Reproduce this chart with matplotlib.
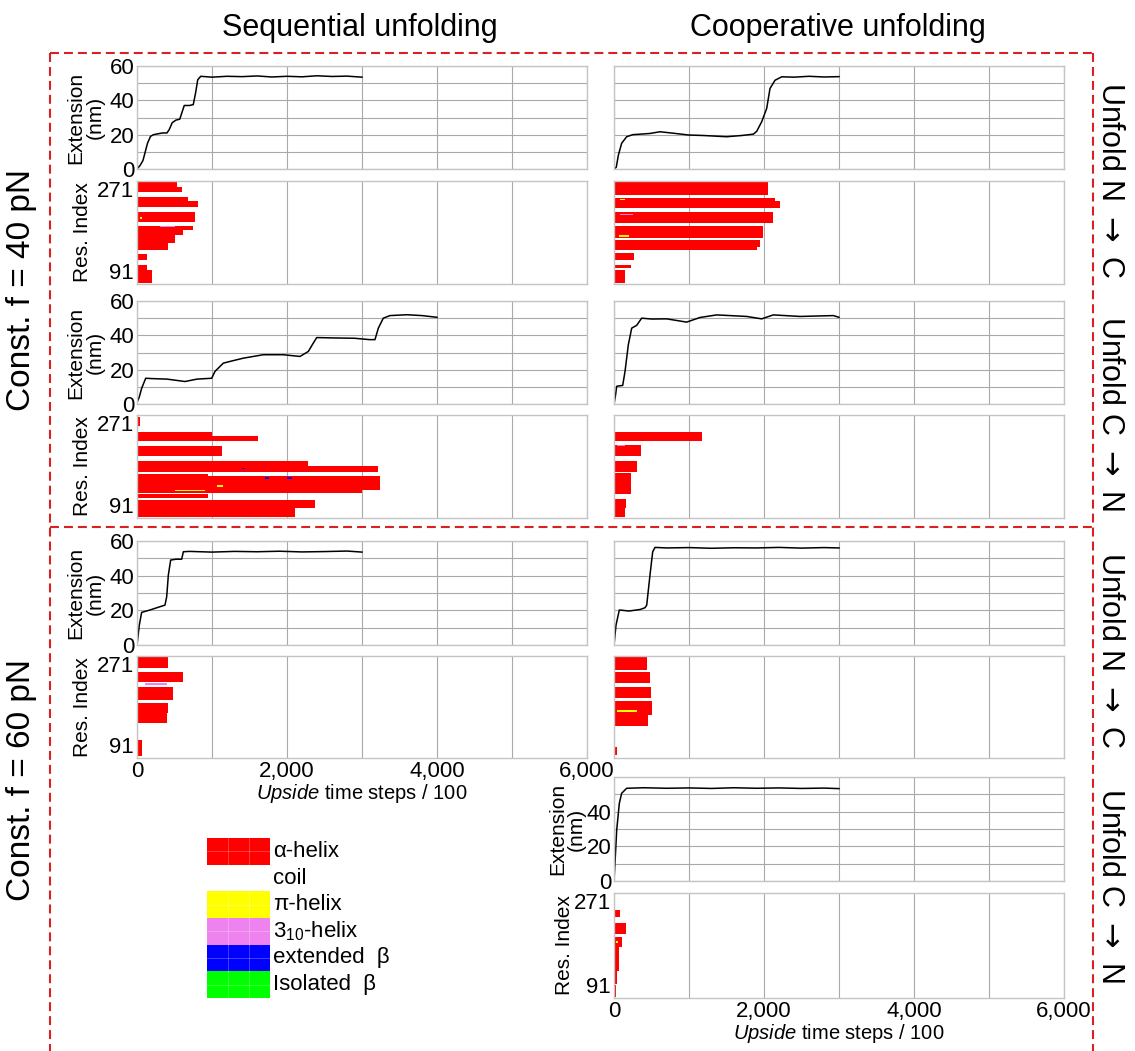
import matplotlib
matplotlib.use('Agg')
import matplotlib.pyplot as plt
from matplotlib.patches import Rectangle
from matplotlib.lines import Line2D

plt.rcParams['font.family'] = ['Liberation Sans', 'DejaVu Sans']
plt.rcParams['mathtext.fontset'] = 'custom'
plt.rcParams['mathtext.rm'] = 'Liberation Sans'
plt.rcParams['mathtext.it'] = 'Liberation Sans:italic'

# ---- extension traces (time steps / 100, nm) ----
seq40_nc_t = [0, 40, 80, 110, 140, 180, 220, 280, 340, 400, 430, 470, 520, 570, 600, 630, 700, 750, 780, 810, 850,
              1000, 1200, 1400, 1600, 1800, 2000, 2200, 2400, 2600, 2800, 3000]
seq40_nc_x = [0, 2, 5, 10, 15, 19, 20, 20.5, 21, 21, 23, 27, 28.5, 29, 33, 37, 37, 37.5, 44, 52, 54,
              53.5, 54, 53.8, 54.2, 53.6, 54, 53.7, 54.3, 53.9, 54.1, 53.5]

coop40_nc_t = [0, 30, 58, 102, 169, 250, 480, 613, 800, 996, 1200, 1502, 1700, 1858, 1902, 1969, 2036, 2080,
               2147, 2236, 2400, 2600, 2800, 3000]
coop40_nc_x = [0, 1, 8, 15, 18.8, 20, 20.7, 21.7, 20.8, 19.8, 19.5, 18.8, 19.5, 20.3, 21.9, 27.5, 35.3, 46.9,
               51.7, 53.7, 53.5, 54, 53.6, 53.8]

seq40_cn_t = [0, 30, 62, 116, 200, 400, 640, 800, 996, 1040, 1151, 1240, 1418, 1684, 1951, 2173, 2284, 2351,
              2396, 2600, 2900, 3100, 3173, 3218, 3284, 3373, 3600, 3800, 4000]
seq40_cn_x = [1, 4, 9.1, 15, 14.8, 14.5, 13.1, 14.5, 15, 19, 23.8, 24.8, 26.7, 28.7, 28.7, 27.7, 30.6, 35.5,
              38.7, 38.5, 38.3, 37.5, 37.5, 44.2, 50, 51.5, 52, 51.5, 50.5]

coop40_cn_t = [0, 20, 36, 58, 116, 147, 191, 236, 302, 369, 500, 702, 969, 1147, 1369, 1769, 1969, 2124,
               2480, 2924, 3000]
coop40_cn_x = [0, 5, 10.3, 10.5, 10.8, 19, 34.5, 44.2, 45.8, 50, 49.5, 49.6, 47.7, 50.4, 51.9, 51, 49.6, 51.9,
               51, 51.5, 50.5]

seq60_nc_t = [0, 31, 62, 173, 307, 373, 396, 418, 449, 520, 596, 618, 700, 1000, 1300, 1600, 1900, 2200,
              2500, 2800, 3000]
seq60_nc_x = [0, 11.5, 18.8, 20.2, 22.1, 23, 27.9, 40.4, 49, 49.5, 49.5, 53.8, 54, 53.6, 54, 53.8, 54.1, 53.7,
              53.9, 54.2, 53.6]

coop60_nc_t = [0, 27, 71, 200, 350, 413, 436, 480, 516, 547, 700, 1000, 1300, 1600, 1900, 2200, 2500, 2800, 3000]
coop60_nc_x = [0, 11.5, 20.2, 19.6, 20.5, 21.5, 23, 40.4, 53.8, 56.3, 56, 56.2, 55.8, 56.1, 56, 56.3, 55.9,
               56.2, 56]

coop60_cn_t = [0, 13, 36, 71, 102, 169, 400, 700, 1000, 1300, 1600, 1900, 2200, 2500, 2800, 3000]
coop60_cn_x = [0, 10.2, 29.4, 44.8, 50.6, 53.5, 53.8, 53.5, 53.7, 53.4, 53.8, 53.5, 53.7, 53.4, 53.6, 53.3]

# ---- helix lifetimes: (first residue, last residue, time helix is lost) ----
seq40_nc_helix = [(261, 271, 529), (252, 261, 596), (236, 243, 684), (226, 236, 809), (200, 217, 773),
                  (185, 193, 751), (177, 185, 618), (163, 177, 507), (151, 163, 418), (133, 143, 129),
                  (116, 125, 129), (93, 116, 196)]
coop40_nc_helix = [(246, 271, 2058), (236, 242, 2150), (223, 236, 2213), (197, 217, 2116), (171, 193, 1991),
                   (155, 168, 1947), (150, 155, 1900), (133, 145, 267), (119, 125, 222), (93, 116, 147)]
seq40_cn_helix = [(251, 268, 40), (235, 241, 996), (225, 235, 1618), (200, 216, 1129), (182, 191, 2284),
                  (172, 182, 3218), (164, 168, 951), (140, 164, 3240), (134, 140, 3000), (126, 133, 951),
                  (108, 123, 2373), (92, 108, 2107)]
coop40_cn_helix = [(251, 268, 18), (225, 241, 1169), (200, 219, 356), (172, 191, 302), (133, 169, 222),
                   (109, 125, 160), (93, 109, 147)]
seq60_nc_helix = [(250, 270, 418), (226, 242, 618), (194, 217, 484), (170, 188, 418), (153, 170, 396),
                  (135, 143, 13), (94, 123, 62)]
coop60_nc_helix = [(246, 270, 436), (223, 243, 480), (197, 217, 489), (167, 191, 502), (147, 167, 458),
                   (135, 144, 18), (97, 111, 44)]
coop60_cn_helix = [(261, 269, 13), (230, 242, 80), (201, 219, 160), (178, 196, 102), (138, 178, 71),
                   (115, 138, 36), (93, 113, 27)]

# other secondary structure: (first residue, last residue, start, end, type)
seq40_nc_other = [(205, 208, 40, 70, 'pi'), (190, 192, 300, 500, '310')]
coop40_nc_other = [(237, 240, 80, 140, 'pi'), (174, 177, 60, 200, 'pi'), (212, 214, 80, 250, '310')]
seq40_cn_other = [(146, 149, 1070, 1150, 'pi'), (160, 163, 1700, 1760, 'ext'), (160, 163, 2000, 2060, 'ext'),
                  (176, 179, 1400, 1440, 'ext'), (138, 140, 500, 900, 'pi')]
coop40_cn_other = [(216, 219, 40, 150, '310')]
seq60_nc_other = [(220, 223, 100, 400, '310')]
coop60_nc_other = [(172, 176, 40, 300, 'pi')]
coop60_cn_other = [(186, 189, 20, 50, 'pi')]

ss_labels = ['α-helix', 'coil', 'π-helix', '3$_{10}$-helix', 'extended  β', 'Isolated  β']
ss_colors = ['#ff0000', '#ffffff', '#ffff00', '#ee82ee', '#0000ff', '#00ff00']
other_colors = {'pi': '#ffff00', '310': '#ee82ee', 'ext': '#0000ff', 'iso': '#00ff00'}

W, H = 1135, 1051
GRID = '#a9a9a9'
FRAME = '#c4c4c4'
FS = 15
TICK_FS = 16

fig = plt.figure(figsize=(W / 100, H / 100), dpi=100)


def px_axes(x0, y0, x1, y1):
    return fig.add_axes([x0 / W, 1 - y1 / H, (x1 - x0) / W, (y1 - y0) / H])


def style(ax):
    ax.set_xlim(0, 6000)
    ax.set_xticks(range(0, 6001, 1000))
    ax.set_xticklabels(['0', '', '2,000', '', '4,000', '', '6,000'])
    ax.tick_params(length=0, labelsize=TICK_FS, pad=2)
    for s in ax.spines.values():
        s.set_color(FRAME)
        s.set_linewidth(1.0)


def ext_panel(ax, t, x, ylab, top_label=True):
    style(ax)
    ax.plot(t, x, color='k', lw=1.1)
    ax.set_ylim(0, 60)
    ax.set_yticks(range(0, 61, 10))
    ax.set_yticklabels(['0', '', '20', '', '40', '', '60' if top_label else ''])
    ax.grid(True, color=GRID, lw=0.8)
    ax.tick_params(labelbottom=False, labelleft=ylab)
    if ylab:
        ax.set_ylabel('Extension\n(nm)', fontsize=FS, linespacing=1.0)
        ax.yaxis.set_label_coords(-0.072, 0.5)


def res_panel(ax, helix, other, ylab, xlab):
    style(ax)
    for lo, hi, te in helix:
        ax.barh((lo + hi) / 2, te, height=hi - lo, left=0, color='#ff0000', lw=0)
    for lo, hi, t0, t1, kind in other:
        ax.barh((lo + hi) / 2, t1 - t0, height=hi - lo, left=t0, color=other_colors[kind], lw=0)
    ax.set_ylim(91, 271)
    ax.set_yticks([91, 271])
    ax.set_yticklabels(['91', '271'])
    ax.get_yticklabels()[0].set_va('bottom')
    ax.get_yticklabels()[1].set_va('top')
    ax.set_axisbelow(True)
    ax.grid(True, axis='x', color=GRID, lw=0.8)
    ax.tick_params(labelbottom=xlab, labelleft=ylab)
    if ylab:
        ax.set_ylabel('Res. Index', fontsize=FS)
        ax.yaxis.set_label_coords(-0.1, 0.5)
    if xlab:
        ax.set_xlabel(r'$\it{Upside}$ time steps / 100', fontsize=14.5, labelpad=0)


LX, RX, AW = 137, 614, 450

# 40 pN, N -> C
ext_panel(px_axes(LX, 66, LX + AW, 169), seq40_nc_t, seq40_nc_x, True)
res_panel(px_axes(LX, 181, LX + AW, 284), seq40_nc_helix, seq40_nc_other, True, False)
ext_panel(px_axes(RX, 66, RX + AW, 169), coop40_nc_t, coop40_nc_x, False)
res_panel(px_axes(RX, 181, RX + AW, 284), coop40_nc_helix, coop40_nc_other, False, False)

# 40 pN, C -> N
ext_panel(px_axes(LX, 301, LX + AW, 404), seq40_cn_t, seq40_cn_x, True)
res_panel(px_axes(LX, 415, LX + AW, 518), seq40_cn_helix, seq40_cn_other, True, False)
ext_panel(px_axes(RX, 301, RX + AW, 404), coop40_cn_t, coop40_cn_x, False)
res_panel(px_axes(RX, 415, RX + AW, 518), coop40_cn_helix, coop40_cn_other, False, False)

# 60 pN, N -> C
ext_panel(px_axes(LX, 541, LX + AW, 645), seq60_nc_t, seq60_nc_x, True)
res_panel(px_axes(LX, 656, LX + AW, 758), seq60_nc_helix, seq60_nc_other, True, True)
ext_panel(px_axes(RX, 541, RX + AW, 645), coop60_nc_t, coop60_nc_x, False)
res_panel(px_axes(RX, 656, RX + AW, 758), coop60_nc_helix, coop60_nc_other, False, False)

# 60 pN, C -> N (cooperative only)
ax_ext = px_axes(RX, 777, RX + AW, 881)
ext_panel(ax_ext, coop60_cn_t, coop60_cn_x, True, top_label=False)
ax_ext.yaxis.set_label_coords(-0.062, 0.5)
ax_res = px_axes(RX, 893, RX + AW, 998)
res_panel(ax_res, coop60_cn_helix, coop60_cn_other, True, True)
ax_res.yaxis.set_label_coords(-0.09, 0.5)

# legend of secondary structure colours
lax = px_axes(207, 838, 420, 998)
lax.set_xlim(0, 213)
lax.set_ylim(160, 0)
lax.axis('off')
rh = 160 / len(ss_labels)
for i, (lab, col) in enumerate(zip(ss_labels, ss_colors)):
    y0 = i * rh
    if col != '#ffffff':
        lax.add_patch(Rectangle((0, y0), 63, rh, facecolor=col, edgecolor='none'))
        for xx in (21, 42):
            lax.plot([xx, xx], [y0, y0 + rh], color='w', lw=0.5, alpha=0.35)
        lax.plot([0, 63], [y0 + rh / 2, y0 + rh / 2], color='w', lw=0.5, alpha=0.35)
    lax.text(66, y0 + rh / 2, lab, fontsize=16, va='center', ha='left')

# titles and row labels
fig.text(360 / W, 1 - 28 / H, 'Sequential unfolding', fontsize=22, ha='center', va='center')
fig.text(838 / W, 1 - 28 / H, 'Cooperative unfolding', fontsize=22, ha='center', va='center')
fig.text(22 / W, 1 - 290 / H, 'Const. f = 40 pN', fontsize=24, rotation=90, ha='center', va='center')
fig.text(22 / W, 1 - 780 / H, 'Const. f = 60 pN', fontsize=24, rotation=90, ha='center', va='center')
for yc, lab in [(180, r'Unfold N $\rightarrow$ C'), (413, r'Unfold C $\rightarrow$ N'),
                (650, r'Unfold N $\rightarrow$ C'), (885, r'Unfold C $\rightarrow$ N')]:
    fig.text(1110 / W, 1 - yc / H, lab, fontsize=22, rotation=-90, ha='center', va='center',
             math_fontfamily='dejavusans')

# dashed frames around the two force conditions
dash = dict(color='#d92121', lw=1.5, ls=(0, (4.3, 2.4)))
for (x0, y0, x1, y1) in [(50, 53, 1093, 53), (50, 527, 1093, 527), (50, 53, 50, 1051), (1093, 53, 1093, 1051)]:
    fig.add_artist(Line2D([x0 / W, x1 / W], [1 - y0 / H, 1 - y1 / H], **dash))

fig.savefig('out.png', dpi=100)
